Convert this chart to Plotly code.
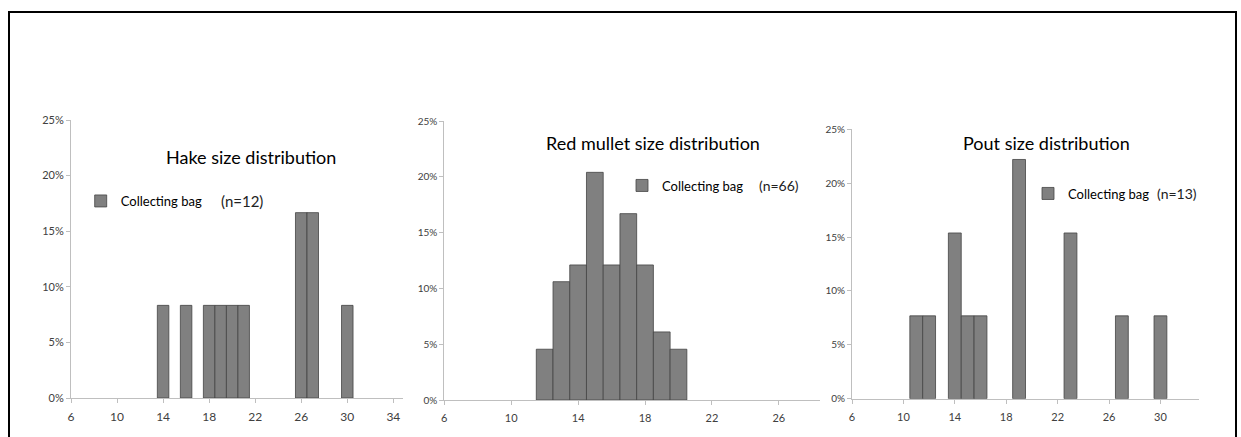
import plotly.graph_objects as go

W, H = 1241, 437

# ---- data ----
hake_len = [14, 16, 18, 19, 20, 21, 26, 27, 30]
hake_pct = [0.0833, 0.0833, 0.0833, 0.0833, 0.0833, 0.0833, 0.1667, 0.1667, 0.0833]

mullet_len = [12, 13, 14, 15, 16, 17, 18, 19, 20]
mullet_pct = [0.0455, 0.106, 0.121, 0.204, 0.121, 0.167, 0.121, 0.061, 0.0455]

pout_len = [11, 12, 14, 15, 16, 19, 23, 27, 30]
pout_pct = [0.0769, 0.0769, 0.1538, 0.0769, 0.0769, 0.222, 0.1538, 0.0769, 0.0769]

titles = ["Hake size distribution", "Red mullet size distribution", "Pout size distribution"]
n_labels = ["(n=12)", "(n=66)", "(n=13)"]
series_name = "Collecting bag"
y_ticks = [0, 0.05, 0.10, 0.15, 0.20, 0.25]
y_ticklabels = ["0%", "5%", "10%", "15%", "20%", "25%"]
x_ticks = [
    [6, 10, 14, 18, 22, 26, 30, 34],
    [6, 10, 14, 18, 22, 26],
    [6, 10, 14, 18, 22, 26, 30],
]

# ---- layout geometry (pixels) ----
panels = [
    dict(x0=71, x1=403, y0=120, y1=398, xmax=34.84, tick_font=11, xs=hake_len, ys=hake_pct,
         title_xy=(250.7, 157), leg_text=(120.7, 201), n_xy=(219, 201), n_size=15),
    dict(x0=444.3, x1=820, y0=121, y1=400, xmax=28.46, tick_font=10, xs=mullet_len, ys=mullet_pct,
         title_xy=(653, 143), leg_text=(662, 185.5), n_xy=(757, 185.5), n_size=14),
    dict(x0=852, x1=1199, y0=129.3, y1=398.7, xmax=33.0, tick_font=10, xs=pout_len, ys=pout_pct,
         title_xy=(1046, 143), leg_text=(1068, 193.5), n_xy=(1155, 193.5), n_size=14),
]

FONT = "Lato"
AX_COL = "#bfbfbf"
TXT_COL = "#404040"

fig = go.Figure()
annotations = []
layout_extra = {}

for i, p in enumerate(panels):
    k = "" if i == 0 else str(i + 1)
    leg = "legend" if i == 0 else f"legend{i+1}"
    fig.add_trace(go.Bar(
        x=p["xs"], y=p["ys"], width=1.0, name=series_name,
        marker=dict(color="#808080", line=dict(color="#444444", width=0.8)),
        xaxis="x" + k, yaxis="y" + k, legend=leg, showlegend=True,
        hoverinfo="skip",
    ))
    layout_extra["xaxis" + k] = dict(
        domain=[p["x0"] / W, p["x1"] / W], anchor="y" + k, automargin=False,
        range=[6, p["xmax"]], tickmode="array", tickvals=x_ticks[i],
        ticktext=[str(v) for v in x_ticks[i]],
        showline=True, linecolor=AX_COL, linewidth=1,
        ticks="outside", ticklen=4, tickcolor=AX_COL, tickwidth=1,
        showgrid=False, zeroline=False, ticklabelstandoff=4,
        tickfont=dict(family=FONT, size=p["tick_font"] + 1, color=TXT_COL),
    )
    layout_extra["yaxis" + k] = dict(
        domain=[(H - p["y1"]) / H, (H - p["y0"]) / H], anchor="x" + k, automargin=False,
        range=[0, 0.25], tickmode="array", tickvals=y_ticks, ticktext=y_ticklabels,
        showline=True, linecolor=AX_COL, linewidth=1,
        ticks="outside", ticklen=4, tickcolor=AX_COL, tickwidth=1,
        showgrid=False, zeroline=False,
        tickfont=dict(family=FONT, size=p["tick_font"], color=TXT_COL),
    )
    lx, ly = p["leg_text"]
    layout_extra[leg] = dict(
        x=(lx - 40) / W, xanchor="left", y=(H - ly) / H, yanchor="middle",
        bgcolor="rgba(0,0,0,0)", borderwidth=0,
        font=dict(family=FONT, size=13, color="#000000"),
        itemwidth=30,
    )
    tx, ty = p["title_xy"]
    annotations.append(dict(
        text=titles[i], x=tx / W, y=(H - ty) / H, xref="paper", yref="paper",
        xanchor="center", yanchor="middle", showarrow=False,
        font=dict(family=FONT, size=18, color="#000000"),
    ))
    nx, ny = p["n_xy"]
    annotations.append(dict(
        text=n_labels[i], x=nx / W, y=(H - ny) / H, xref="paper", yref="paper",
        xanchor="left", yanchor="middle", showarrow=False,
        font=dict(family=FONT, size=p["n_size"], color="#222222"),
    ))

fig.update_layout(
    template="none",
    width=W, height=H, margin=dict(l=0, r=0, t=0, b=0, pad=0, autoexpand=False),
    paper_bgcolor="white", plot_bgcolor="white",
    annotations=annotations,
    shapes=[dict(type="rect", xref="paper", yref="paper",
                 x0=9 / W, x1=1236 / W, y0=-0.05, y1=(H - 12) / H,
                 line=dict(color="black", width=2), fillcolor="rgba(0,0,0,0)")],
    bargap=0, showlegend=True, hovermode=False,
    **layout_extra,
)

fig.write_html(
    "out.html",
    config={"displayModeBar": False, "staticPlot": True},
    post_script="document.body.style.margin='0';document.body.style.overflow='hidden';",
)
